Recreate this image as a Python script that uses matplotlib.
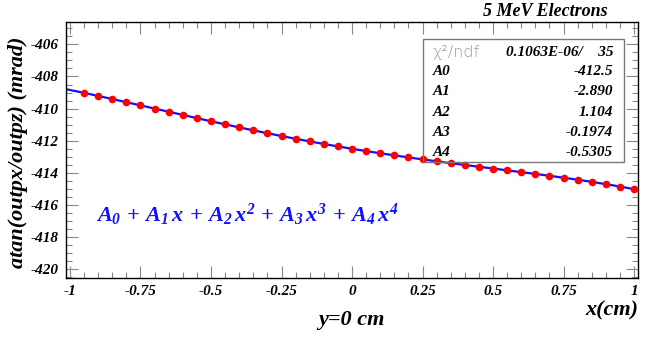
import numpy as np
import matplotlib
matplotlib.use("Agg")
import matplotlib.pyplot as plt
from matplotlib.patches import Rectangle
from matplotlib.ticker import MultipleLocator, FuncFormatter

plt.rcParams['font.family'] = 'Liberation Serif'
plt.rcParams['font.weight'] = 'bold'
plt.rcParams['font.style'] = 'italic'
plt.rcParams['mathtext.fontset'] = 'custom'
plt.rcParams['mathtext.it'] = 'Liberation Serif:bold:italic'
plt.rcParams['mathtext.rm'] = 'Liberation Serif:bold'
plt.rcParams['mathtext.bf'] = 'Liberation Serif:bold'

# measured points (x in cm, angle in mrad)
x_cm = [-0.95, -0.90, -0.85, -0.80, -0.75, -0.70, -0.65, -0.60, -0.55, -0.50,
        -0.45, -0.40, -0.35, -0.30, -0.25, -0.20, -0.15, -0.10, -0.05, 0.00,
        0.05, 0.10, 0.15, 0.20, 0.25, 0.30, 0.35, 0.40, 0.45, 0.50,
        0.55, 0.60, 0.65, 0.70, 0.75, 0.80, 0.85, 0.90, 0.95, 1.00]
angle = [-409.02, -409.21, -409.40, -409.60, -409.80, -410.00, -410.20, -410.39, -410.59, -410.79,
         -410.98, -411.17, -411.35, -411.53, -411.71, -411.88, -412.04, -412.20, -412.35, -412.50,
         -412.64, -412.78, -412.91, -413.04, -413.16, -413.28, -413.39, -413.51, -413.62, -413.73,
         -413.84, -413.95, -414.06, -414.18, -414.30, -414.42, -414.56, -414.70, -414.85, -415.01]

# fit results shown in the stats box
par_names = ['A0', 'A1', 'A2', 'A3', 'A4']
par_values = ['-412.5', '-2.890', '1.104', '-0.1974', '-0.5305']
chi2_text = '0.1063E-06/    35'

fig = plt.figure(figsize=(6.48, 3.37), dpi=100)
ax = fig.add_axes([0.1019, 0.1751, 0.8827, 0.7596])

xlim = (-1.014, 1.014)
ax.set_xlim(xlim)
ax.set_ylim(-420.54, -404.61)

# 4th order polynomial fit
coef = np.polyfit(x_cm, angle, 4)
xf = np.linspace(xlim[0], xlim[1], 300)
ax.plot(xf, np.polyval(coef, xf), color='#1010ff', lw=1.6, zorder=2)
ax.plot(x_cm, angle, 'o', color='#ff0000', ms=5.5, mew=0, zorder=3)

ax.xaxis.set_major_locator(MultipleLocator(0.25))
ax.xaxis.set_minor_locator(MultipleLocator(0.05))
ax.yaxis.set_major_locator(MultipleLocator(2))
ax.yaxis.set_minor_locator(MultipleLocator(0.5))
ax.xaxis.set_major_formatter(FuncFormatter(lambda v, p: '%g' % round(v, 2)))
ax.yaxis.set_major_formatter(FuncFormatter(lambda v, p: '%d' % round(v)))
ax.tick_params(which='both', direction='in', top=True, right=True,
               labelsize=11, color='#888888', width=0.8)
ax.tick_params(which='major', length=8.5)
ax.tick_params(which='minor', length=4.5)
ax.tick_params(axis='y', pad=5)
ax.tick_params(axis='x', pad=5)
for lab in ax.get_xticklabels() + ax.get_yticklabels():
    lab.set_fontweight('bold')
    lab.set_fontstyle('italic')
for sp in ax.spines.values():
    sp.set_linewidth(1.0)

# stats box (transparent, data shows through)
bx0, bx1 = (423 - 66) / 572, (624 - 66) / 572
by0, by1 = (278 - 162) / 256, (278 - 39) / 256
ax.add_patch(Rectangle((bx0, by0), bx1 - bx0, by1 - by0, transform=ax.transAxes,
                       fill=False, edgecolor='#777777', lw=1.0, zorder=4))
row_y = [52, 71, 91, 112, 133, 153]
def to_ax_y(py):
    return (278 - py) / 256
lx = (433 - 66) / 572
rx = (613 - 66) / 572
ax.text(lx, to_ax_y(row_y[0]), '\u03c7\u00b2/ndf', transform=ax.transAxes, ha='left', va='center',
        fontsize=11.5, family='DejaVu Sans', fontweight='light', fontstyle='normal',
        color='#999999', zorder=5)
ax.text(rx, to_ax_y(row_y[0]), chi2_text, transform=ax.transAxes, ha='right', va='center',
        fontsize=11, zorder=5)
for name, val, py in zip(par_names, par_values, row_y[1:]):
    ax.text(lx, to_ax_y(py), name, transform=ax.transAxes, ha='left', va='center',
            fontsize=11, zorder=5)
    ax.text(rx, to_ax_y(py), val, transform=ax.transAxes, ha='right', va='center',
            fontsize=11, zorder=5)

# formula
ax.text((96 - 66) / 572, to_ax_y(215),
        r'$A_{\mathit{0}} \, + \, A_{\mathit{1}}\,x \, + \, A_{\mathit{2}}\,x^{\mathit{2}} \, + \, A_{\mathit{3}}\,x^{\mathit{3}} \, + \, A_{\mathit{4}}\,x^{\mathit{4}}$',
        transform=ax.transAxes, ha='left', va='center', fontsize=16, color='#1010ff')

# titles
fig.text(0.937, 0.967, '5 MeV Electrons', ha='right', va='center', fontsize=13)
fig.text(0.985, 0.080, 'x(cm)', ha='right', va='center', fontsize=16)
fig.text(0.542, 0.050, 'y=0 cm', ha='center', va='center', fontsize=16)
fig.text(0.028, 0.549, 'atan(outpx/outpz) (mrad)', rotation=90, ha='center', va='center', fontsize=16)

fig.savefig('out.png', dpi=100)
